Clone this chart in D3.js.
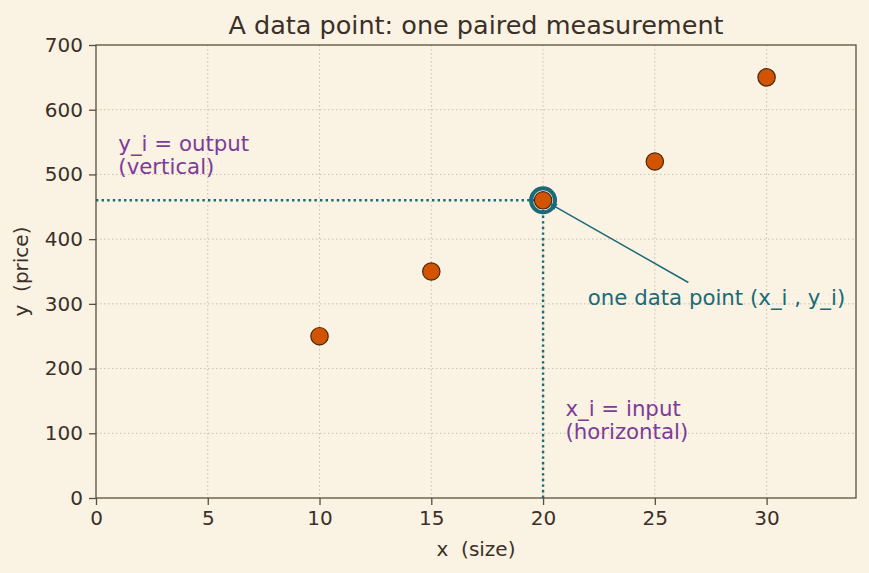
<!DOCTYPE html>
<html>
<head>
<meta charset="utf-8">
<script src="https://cdn.jsdelivr.net/npm/d3@7"></script>
<style>
  body { margin: 0; background: #faf2e3; }
  text { font-family: "DejaVu Sans", sans-serif; white-space: pre; }
</style>
</head>
<body>
<div id="chart"></div>
<script>
// data
var xs = [10, 15, 20, 25, 30];
var ys = [250, 350, 460, 520, 650];
var focusX = 20, focusY = 460;
var xTicks = [0, 5, 10, 15, 20, 25, 30];
var yTicks = [0, 100, 200, 300, 400, 500, 600, 700];

var W = 869, H = 573;
var margin = { top: 45, right: 13, bottom: 75, left: 96 },
    width = W - margin.left - margin.right,
    height = H - margin.top - margin.bottom;

var axisColor = "#5b4f3f", textColor = "#3a3028";
var teal = "#1b6a77", purple = "#7d3c98";
var annSize = 21.3;

var svgRoot = d3.select("#chart").append("svg")
    .attr("width", W).attr("height", H);
svgRoot.append("rect").attr("width", W).attr("height", H).attr("fill", "#faf2e3");

var svg = svgRoot.append("g")
    .attr("transform", "translate(" + margin.left + "," + margin.top + ")");

var x = d3.scaleLinear().domain([0, 34]).range([0, width]);
var y = d3.scaleLinear().domain([0, 700]).range([height, 0]);

// grid
svg.append("g").selectAll("line").data(xTicks.slice(1)).enter().append("line")
    .attr("x1", d => x(d)).attr("x2", d => x(d))
    .attr("y1", 0).attr("y2", height)
    .attr("stroke", "#c9bfae").attr("stroke-width", 1).attr("stroke-dasharray", "1.5,2.5");
svg.append("g").selectAll("line").data(yTicks.slice(1, -1)).enter().append("line")
    .attr("y1", d => y(d)).attr("y2", d => y(d))
    .attr("x1", 0).attr("x2", width)
    .attr("stroke", "#c9bfae").attr("stroke-width", 1).attr("stroke-dasharray", "1.5,2.5");

// guide lines
svg.append("line")
    .attr("x1", x(0)).attr("x2", x(focusX)).attr("y1", y(focusY)).attr("y2", y(focusY))
    .attr("stroke", teal).attr("stroke-width", 2.4).attr("stroke-dasharray", "2.4,3.2");
svg.append("line")
    .attr("x1", x(focusX)).attr("x2", x(focusX)).attr("y1", y(0)).attr("y2", y(focusY))
    .attr("stroke", teal).attr("stroke-width", 2.4).attr("stroke-dasharray", "2.4,3.2");

// highlight ring
svg.append("circle")
    .attr("cx", x(focusX)).attr("cy", y(focusY)).attr("r", 12)
    .attr("fill", "none").attr("stroke", teal).attr("stroke-width", 4);

// points
svg.append("g").selectAll("circle").data(xs).enter().append("circle")
    .attr("cx", d => x(d)).attr("cy", (d, i) => y(ys[i])).attr("r", 8.7)
    .attr("fill", "#d35400").attr("stroke", "#4a2a12").attr("stroke-width", 1.2);

// arrow
svg.append("line")
    .attr("x1", x(26.5)).attr("y1", y(333))
    .attr("x2", x(20.3)).attr("y2", y(455))
    .attr("stroke", teal).attr("stroke-width", 1.5);
svg.append("path")
    .attr("d", "M0,0 L-7,-3.5 L-7,3.5 Z")
    .attr("fill", teal)
    .attr("transform", function () {
      var ang = Math.atan2(y(455) - y(333), x(20.3) - x(26.5)) * 180 / Math.PI;
      return "translate(" + x(20.3) + "," + y(455) + ") rotate(" + ang + ")";
    });

// annotation texts
svg.append("text").attr("x", x(22)).attr("y", y(300) + 1)
    .attr("fill", teal).attr("font-size", annSize).text("one data point (x_i , y_i)");
var t1 = svg.append("text").attr("fill", purple).attr("font-size", annSize);
t1.append("tspan").attr("x", x(1)).attr("y", y(535) - 1).text("y_i = output");
t1.append("tspan").attr("x", x(1)).attr("y", y(535) + 22).text("(vertical)");
var t2 = svg.append("text").attr("fill", purple).attr("font-size", annSize);
t2.append("tspan").attr("x", x(21)).attr("y", y(100) - 17).text("x_i = input");
t2.append("tspan").attr("x", x(21)).attr("y", y(100) + 6).text("(horizontal)");

// frame
svg.append("rect").attr("width", width).attr("height", height)
    .attr("fill", "none").attr("stroke", axisColor).attr("stroke-width", 1.3);

// axes
var axisX = svg.append("g").attr("transform", "translate(0," + height + ")")
    .call(d3.axisBottom(x).tickValues(xTicks).tickSize(7).tickPadding(6));
var axisY = svg.append("g")
    .call(d3.axisLeft(y).tickValues(yTicks).tickSize(7).tickPadding(6));
[axisX, axisY].forEach(function (a) {
  a.select(".domain").remove();
  a.selectAll("line").attr("stroke", axisColor).attr("stroke-width", 1.3);
  a.selectAll("text").attr("fill", textColor).attr("font-size", 20)
      .attr("font-family", "DejaVu Sans, sans-serif");
});

// labels
svgRoot.append("text").attr("x", margin.left + width / 2).attr("y", 34)
    .attr("text-anchor", "middle").attr("fill", textColor).attr("font-size", 25.5)
    .text("A data point: one paired measurement");
svgRoot.append("text").attr("x", margin.left + width / 2).attr("y", 556)
    .attr("text-anchor", "middle").attr("fill", textColor).attr("font-size", 20)
    .text("x  (size)");
svgRoot.append("text")
    .attr("transform", "translate(28," + (margin.top + height / 2) + ") rotate(-90)")
    .attr("text-anchor", "middle").attr("fill", textColor).attr("font-size", 20)
    .text("y  (price)");
</script>
</body>
</html>
